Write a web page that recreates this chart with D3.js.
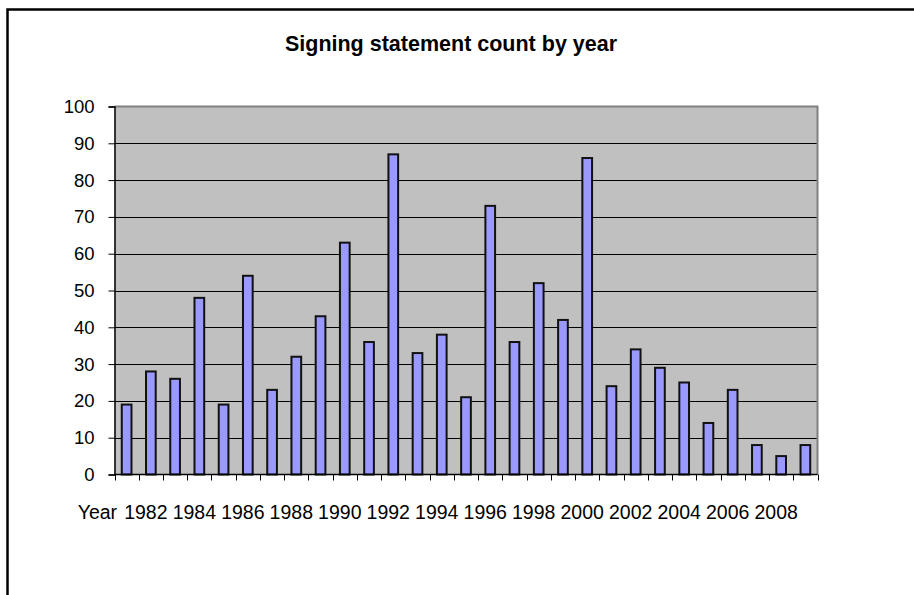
<!DOCTYPE html>
<html>
<head>
<meta charset="utf-8">
<script src="https://cdn.jsdelivr.net/npm/d3@7"></script>
<style>
  html, body { margin: 0; padding: 0; background: #ffffff; }
  svg { display: block; }
  text { font-family: "Liberation Sans", Arial, sans-serif; fill: #000; }
</style>
</head>
<body>
<svg id="chart" width="914" height="595"></svg>
<script>
// Signing statements issued per year
const years = [1981, 1982, 1983, 1984, 1985, 1986, 1987, 1988, 1989, 1990,
               1991, 1992, 1993, 1994, 1995, 1996, 1997, 1998, 1999, 2000,
               2001, 2002, 2003, 2004, 2005, 2006, 2007, 2008, 2009];
const counts = [19, 28, 26, 48, 19, 54, 23, 32, 43, 63,
                36, 87, 33, 38, 21, 73, 36, 52, 42, 86,
                24, 34, 29, 25, 14, 23, 8, 5, 8];
const xLabels = ["Year", "1982", "1984", "1986", "1988", "1990", "1992", "1994",
                 "1996", "1998", "2000", "2002", "2004", "2006", "2008"];
const yTicks = [0, 10, 20, 30, 40, 50, 60, 70, 80, 90, 100];
const title = "Signing statement count by year";

const svg = d3.select("#chart");
const plot = { left: 114.5, right: 817.5, top: 106.5, bottom: 474.5 };

// outer chart frame
svg.append("rect")
  .attr("x", 7.5).attr("y", 9.5)
  .attr("width", 940).attr("height", 620)
  .attr("fill", "none").attr("stroke", "#000").attr("stroke-width", 2.5);

svg.append("text")
  .attr("x", 451).attr("y", 51)
  .attr("text-anchor", "middle")
  .style("font-size", "21.5px").style("font-weight", "bold")
  .text(title);

const x = d3.scaleBand()
  .domain(years)
  .range([plot.left, plot.right])
  .paddingInner(0.6)
  .paddingOuter(0.3);

const y = d3.scaleLinear()
  .domain([0, 100])
  .range([plot.bottom, plot.top]);

// plot background
svg.append("rect")
  .attr("x", plot.left).attr("y", plot.top)
  .attr("width", plot.right - plot.left).attr("height", plot.bottom - plot.top)
  .attr("fill", "#c0c0c0");

// horizontal gridlines
svg.append("g")
  .selectAll("line")
  .data(yTicks.filter(d => d > 0 && d < 100))
  .join("line")
  .attr("x1", plot.left).attr("x2", plot.right)
  .attr("y1", d => Math.round(y(d)) + 0.5).attr("y2", d => Math.round(y(d)) + 0.5)
  .attr("stroke", "#000").attr("stroke-width", 1);

// plot area top and right edges
svg.append("path")
  .attr("d", `M${plot.left},${plot.top}H${plot.right}V${plot.bottom}`)
  .attr("fill", "none").attr("stroke", "#808080").attr("stroke-width", 2);

// bars
svg.append("g")
  .selectAll("rect")
  .data(years.map((yr, i) => ({ yr, v: counts[i] })))
  .join("rect")
  .attr("x", d => x(d.yr))
  .attr("y", d => y(d.v))
  .attr("width", x.bandwidth())
  .attr("height", d => y(0) - y(d.v))
  .attr("fill", "#9999ff")
  .attr("stroke", "#111").attr("stroke-width", 2);

// y axis
const yAxis = svg.append("g")
  .attr("transform", `translate(${plot.left},0)`)
  .call(d3.axisLeft(y).tickValues(yTicks).tickSize(6).tickPadding(14));
yAxis.select(".domain").attr("stroke", "#000").attr("stroke-width", 1.5);
yAxis.selectAll(".tick line").attr("stroke", "#000");
yAxis.selectAll(".tick text")
  .style("font-size", "18.5px")
  .style("font-family", "'Liberation Sans', Arial, sans-serif");

// x axis: baseline and category boundary ticks
const step = x.step();
const bounds = d3.range(years.length + 1).map(i => plot.left + i * step);
const xg = svg.append("g");
xg.append("line")
  .attr("x1", plot.left).attr("x2", plot.right)
  .attr("y1", plot.bottom).attr("y2", plot.bottom)
  .attr("stroke", "#000").attr("stroke-width", 1.5);
xg.selectAll("line.tick")
  .data(bounds)
  .join("line")
  .attr("class", "tick")
  .attr("x1", d => Math.round(d) + 0.5).attr("x2", d => Math.round(d) + 0.5)
  .attr("y1", plot.bottom).attr("y2", plot.bottom + 6)
  .attr("stroke", "#000").attr("stroke-width", 1);

// category labels, every second year
xg.selectAll("text")
  .data(xLabels)
  .join("text")
  .attr("x", (d, i) => plot.left + step * (2 * i - 0.5) - 5)
  .attr("y", 519)
  .attr("text-anchor", "middle")
  .style("font-size", "19.5px")
  .text(d => d);
</script>
</body>
</html>
